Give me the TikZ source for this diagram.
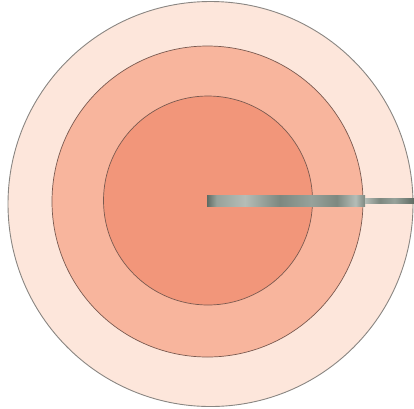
\documentclass[tikz,border=0pt]{standalone}
\usetikzlibrary{shadings}
\definecolor{outerfill}{HTML}{FDE6DB}
\definecolor{midfill}{HTML}{F8B59D}
\definecolor{innerfill}{HTML}{F2967A}
\definecolor{ringline}{HTML}{8A8682}
\definecolor{innerline}{HTML}{7A5A50}
\definecolor{barA}{HTML}{5F6B63}
\definecolor{barB}{HTML}{97A29B}
\definecolor{barC}{HTML}{B5BDB7}
\definecolor{barD}{HTML}{7D8880}
\pgfdeclarehorizontalshading{barshade}{100bp}{
  color(0bp)=(barA);
  color(25bp)=(barA);
  color(28bp)=(barB);
  color(37bp)=(barC);
  color(48bp)=(barD);
  color(58bp)=(barB);
  color(66bp)=(barD);
  color(72bp)=(barC);
  color(75bp)=(barD);
  color(100bp)=(barD)}
\pgfdeclarehorizontalshading{tipshade}{100bp}{
  color(0bp)=(barC);
  color(25bp)=(barC);
  color(40bp)=(barD);
  color(55bp)=(barB);
  color(75bp)=(barA);
  color(100bp)=(barA)}
\tikzset{
  ring/.style={draw=ringline, line width=0.9pt},
  core/.style={draw=innerline, line width=0.7pt},
}
\begin{document}
\begin{tikzpicture}[x=1pt,y=-1pt]
\useasboundingbox (0,0) rectangle (414,408);
\fill[white] (0,0) rectangle (414,408);
\draw[ring, fill=outerfill] (210.5,204) circle (202.5);
\draw[core, fill=midfill] (207.5,201.5) circle (155.5);
\draw[core, fill=innerfill] (208,200.5) circle (104.5);
% probe
\shade[shading=barshade] (207,195) rectangle (365,206.5);
\shade[shading=tipshade] (365,198.5) rectangle (414,203);
\end{tikzpicture}
\end{document}
